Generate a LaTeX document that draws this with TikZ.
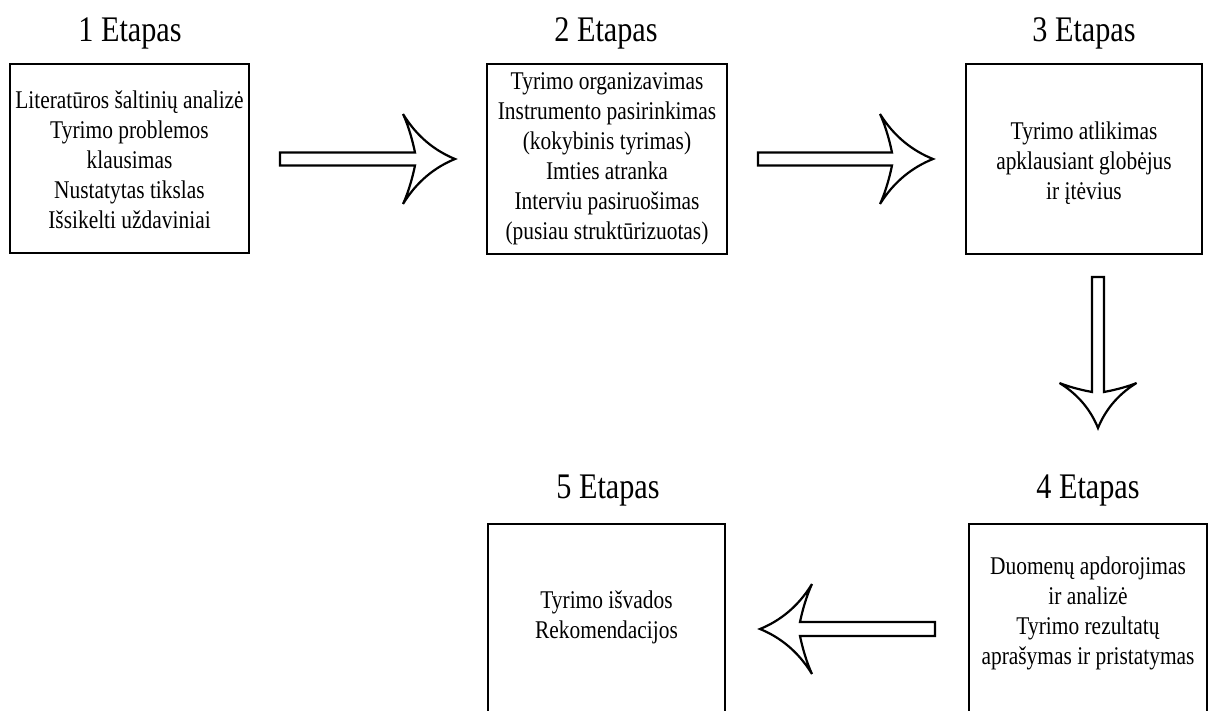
\documentclass[tikz,border=0pt]{standalone}
\usepackage{fontspec}
\setmainfont{Liberation Serif}[FakeStretch=0.84]
\begin{document}
\begin{tikzpicture}[x=1pt,y=-1pt,
  box/.style 2 args={draw, line width=2.6pt, minimum width=#1, minimum height=#2, inner sep=0pt},
  boxtext/.style={align=center, inner sep=0pt, font=\fontsize{25.5}{30}\selectfont},
  title/.style={anchor=base, inner sep=0pt, font=\fontsize{36}{40}\selectfont},
  arrowline/.style={draw, line width=2.2pt, fill=white, line join=miter},
  pics/blockarrow/.style args={#1/#2/#3/#4/#5}{code={
    \path[arrowline] (-#1,-#5) -- (-#2,-#5)
      .. controls ({-#2-0.3*(#3-#2)},{-#5-0.45*(#4-#5)}) and ({-#2-0.7*(#3-#2)},{-#5-0.8*(#4-#5)}) .. (-#3,-#4)
      .. controls ({-0.73*#3},{-0.49*#4}) and ({-0.38*#3},{-0.18*#4}) .. (0,0)
      .. controls ({-0.38*#3},{0.18*#4}) and ({-0.73*#3},{0.49*#4}) .. (-#3,#4)
      .. controls ({-#2-0.7*(#3-#2)},{#5+0.8*(#4-#5)}) and ({-#2-0.3*(#3-#2)},{#5+0.45*(#4-#5)}) .. (-#2,#5)
      -- (-#1,#5) -- cycle;
  }}]
\useasboundingbox (0,0) rectangle (1210,711);

% titles
\node[title] (h1) at (130,42) {1 Etapas};
\node[title] (h2) at (606,42) {2 Etapas};
\node[title] (h3) at (1084,42) {3 Etapas};
\node[title] (h4) at (1088,498) {4 Etapas};
\node[title] (h5) at (608,498) {5 Etapas};

% boxes
\node[box={239pt}{189pt}] (b1) at (129.5,158.5) {};
\node[box={240pt}{190pt}] (b2) at (607,159) {};
\node[box={236pt}{190pt}] (b3) at (1084,159) {};
\node[box={238pt}{192pt}] (b4) at (1088,620) {};
\node[box={237pt}{192pt}] (b5) at (606.5,620) {};

% texts
\node[boxtext] (t1) at (129.5,160) {Literatūros šaltinių analizė\\Tyrimo problemos\\klausimas\\Nustatytas tikslas\\Išsikelti uždaviniai};
\node[boxtext] (t2) at (607,159) {Tyrimo organizavimas\\Instrumento pasirinkimas\\(kokybinis tyrimas)\\Imties atranka\\Interviu pasiruošimas\\(pusiau struktūrizuotas)};
\node[boxtext] (t3) at (1084,163) {Tyrimo atlikimas\\apklausiant globėjus\\ir įtėvius};
\node[boxtext] (t4) at (1088,613) {Duomenų apdorojimas\\ir analizė\\Tyrimo rezultatų\\aprašymas ir pristatymas};
\node[boxtext] (t5) at (606.5,617) {Tyrimo išvados\\Rekomendacijos};

% block arrows
\pic at (455,159) {blockarrow={175/40/52/45/6.5}};
\pic at (933,159) {blockarrow={175/41/53/45/6.5}};
\pic[rotate=-90] at (1098,428) {blockarrow={151/36/45/38.5/6}};
\pic[xscale=-1] at (760,629) {blockarrow={175/40/52/45/7}};
\end{tikzpicture}
\end{document}
